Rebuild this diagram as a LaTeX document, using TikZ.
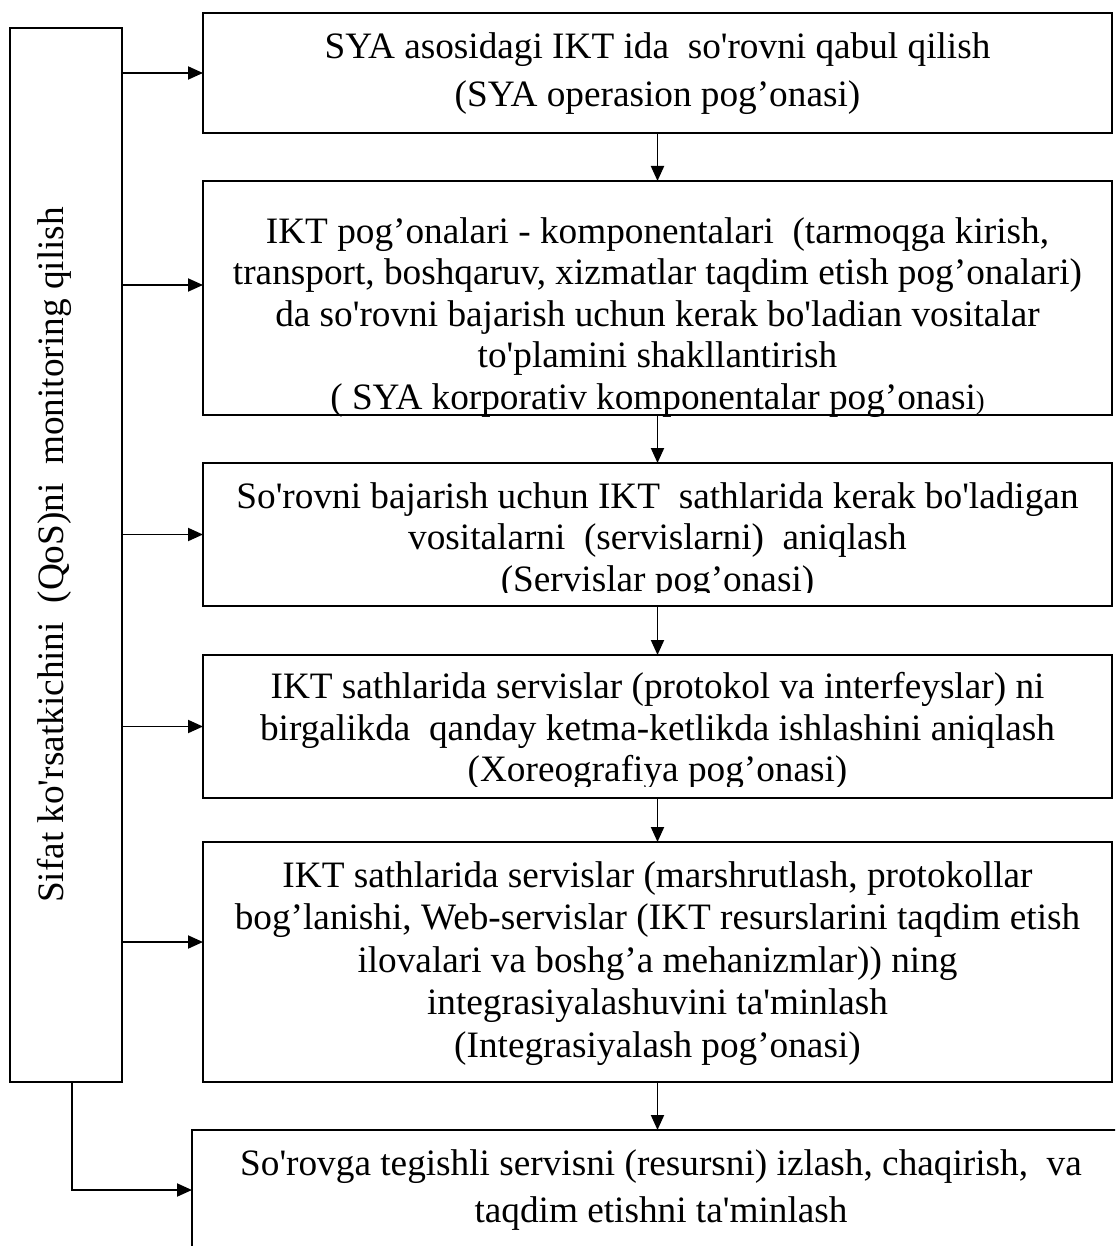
\documentclass[tikz,border=0pt]{standalone}
\usepackage{fontspec}
\usetikzlibrary{arrows.meta,calc}
\newfontfamily\tnr{Liberation Serif}
\def\txtfont#1{\tnr\fontsize{21.2pt}{#1}\selectfont}
\def\smallparen{{\tnr\fontsize{15pt}{15pt}\selectfont)}}
\tikzset{
  frame/.style={draw=black, line width=1.1pt, inner sep=0pt, outer sep=0pt},
  stagebox/.style={frame, minimum width=18.18cm},
  stagetxt/.style={anchor=north, align=center, inner sep=0pt},
  flowarr/.style={-{Triangle[length=0.3cm,width=0.26cm]}, line width=1.1pt},
}

\begin{document}
\begin{tikzpicture}
\path[use as bounding box, clip] (0,0) rectangle (22.3,-24.92);

% ===================== LEFT: QoS monitoring column =====================
\node[frame, minimum width=2.24cm, minimum height=21.08cm] (qos) at (1.32,-11.10) {};
\node[rotate=90, inner sep=0pt, font=\txtfont{24pt}] (qostxt) at ([xshift=-0.24cm]qos.center)
  {Sifat ko'rsatkichini\ \ (QoS)ni\ \ monitoring qilish};

% ===================== RIGHT: stage boxes =====================
\node[stagebox, minimum height=2.40cm] (b1) at (13.15,-1.46) {};
\node[stagebox, minimum height=4.68cm] (b2) at (13.15,-5.96) {};
\node[stagebox, minimum height=2.86cm] (b3) at (13.15,-10.69) {};
\node[stagebox, minimum height=2.86cm] (b4) at (13.15,-14.53) {};
\node[stagebox, minimum height=4.80cm] (b5) at (13.15,-19.24) {};
\node[frame, minimum width=18.76cm, minimum height=2.40cm] (b6) at (13.22,-23.80) {};

\node[stagetxt, font=\txtfont{27.3pt}] (t1) at ([yshift=-0.38cm]b1.north)
  {SYA asosidagi IKT ida\ \ so'rovni qabul qilish\\(SYA operasion pog’onasi)};
\node[stagetxt, font=\txtfont{23.6pt}] (t2) at ([yshift=-0.72cm]b2.north)
  {IKT pog’onalari - komponentalari\ \ (tarmoqga kirish,\\
   transport, boshqaruv, xizmatlar taqdim etish pog’onalari)\\
   da so'rovni bajarish uchun kerak bo'ladian vositalar\\
   to'plamini shakllantirish\\
   ( SYA korporativ komponentalar pog’onasi\smallparen};
\begin{scope}
  \clip (b3.north west) rectangle ([yshift=0.28cm]b3.south east);
  \node[stagetxt, font=\txtfont{23.6pt}] (t3) at ([yshift=-0.38cm]b3.north)
    {So'rovni bajarish uchun IKT\ \ sathlarida kerak bo'ladigan\\
     vositalarni\ \ (servislarni)\ \ aniqlash\\
     (Servislar pog’onasi)};
\end{scope}
\begin{scope}
  \clip (b4.north west) rectangle ([yshift=0.24cm]b4.south east);
  \node[stagetxt, font=\txtfont{23.6pt}] (t4) at ([yshift=-0.34cm]b4.north)
    {IKT sathlarida servislar (protokol va interfeyslar) ni\\
     birgalikda\ \ qanday ketma-ketlikda ishlashini aniqlash\\
     (Xoreografiya pog’onasi)};
\end{scope}
\node[stagetxt, font=\txtfont{24.2pt}] (t5) at ([yshift=-0.38cm]b5.north)
  {IKT sathlarida servislar (marshrutlash, protokollar\\
   bog’lanishi, Web-servislar (IKT resurslarini taqdim etish\\
   ilovalari va boshg’a mehanizmlar)) ning\\
   integrasiyalashuvini ta'minlash\\
   (Integrasiyalash pog’onasi)};
\node[stagetxt, font=\txtfont{26.7pt}] (t6) at ([yshift=-0.38cm]b6.north)
  {So'rovga tegishli servisni (resursni) izlash, chaqirish,\ \ va\\
   taqdim etishni ta'minlash};

% ===================== connectors =====================
\coordinate (in2) at ([yshift=0.26cm]b2.west);
\coordinate (in5) at ([yshift=0.40cm]b5.west);
\coordinate (out6) at ([xshift=0.12cm]qos.south);
\draw[flowarr] (qos.east |- b1.west) -- (b1.west);
\draw[flowarr] (qos.east |- in2) -- (in2);
\draw[flowarr] (qos.east |- b3.west) -- (b3.west);
\draw[flowarr] (qos.east |- b4.west) -- (b4.west);
\draw[flowarr] (qos.east |- in5) -- (in5);
\draw[flowarr] (out6) |- (b6.west);

\draw[flowarr] (b1.south) -- (b2.north);
\draw[flowarr] (b2.south) -- (b3.north);
\draw[flowarr] (b3.south) -- (b4.north);
\draw[flowarr] (b4.south) -- (b5.north);
\draw[flowarr] (b5.south) -- (b5.south |- b6.north);
\end{tikzpicture}
\end{document}
